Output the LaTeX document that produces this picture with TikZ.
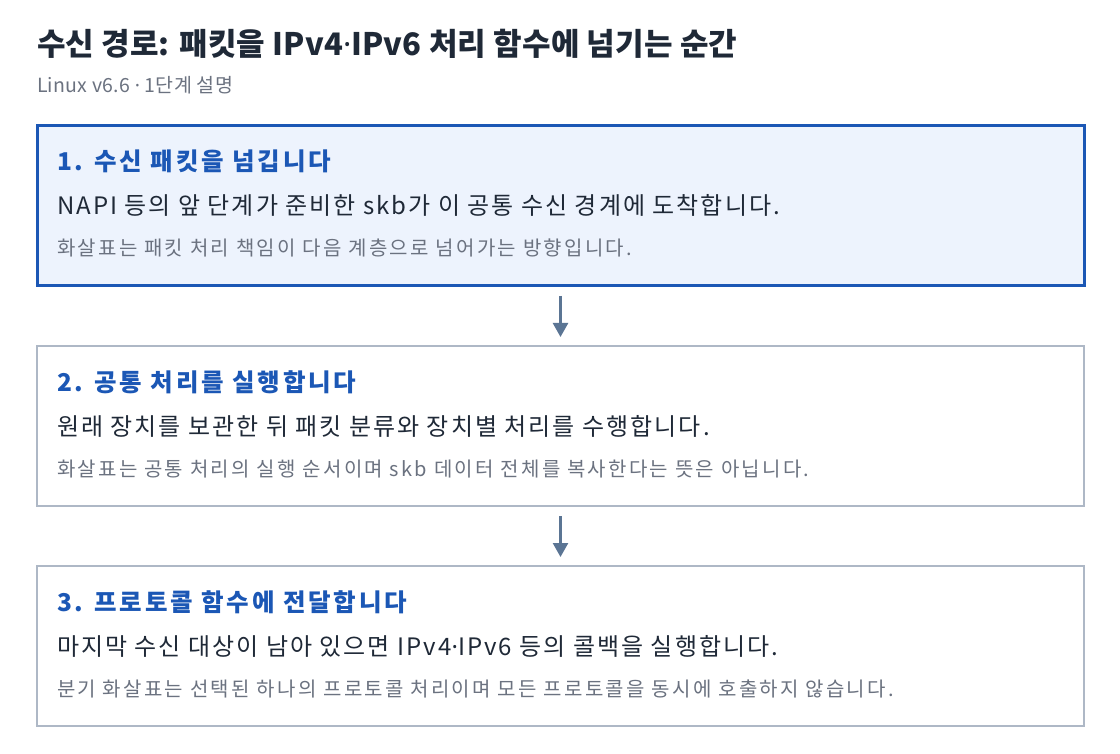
\documentclass[tikz,border=0pt]{standalone}
\usepackage{fontspec}
\setmainfont{Noto Sans CJK KR}
\newfontfamily\latinfont{Noto Sans}
\newcommand{\mdot}{{\latinfont ·}}
\usetikzlibrary{arrows.meta}
\definecolor{titlec}{HTML}{1F2937}
\definecolor{subc}{HTML}{6B7280}
\definecolor{headc}{HTML}{1B57B5}
\definecolor{bodyc}{HTML}{1F2937}
\definecolor{notec}{HTML}{6B7280}
\definecolor{activeb}{HTML}{1B57B5}
\definecolor{activef}{HTML}{EDF3FD}
\definecolor{plainb}{HTML}{AEB8C6}
\definecolor{arrc}{HTML}{5B7594}
\tikzset{
  txt/.style={anchor=base west, inner sep=0pt, outer sep=0pt},
  titletxt/.style={txt, text=titlec, font=\fontsize{31}{36}\selectfont\bfseries\addfontfeatures{LetterSpace=0.6}},
  subtxt/.style={txt, text=subc, font=\fontsize{19.5}{23}\selectfont\addfontfeatures{LetterSpace=1.5}},
  headtxt/.style={txt, text=headc, font=\fontsize{24.5}{28}\selectfont\bfseries\addfontfeatures{LetterSpace=11.5}},
  bodytxt/.style={txt, text=bodyc, font=\fontsize{24}{29}\selectfont\addfontfeatures{LetterSpace=8.5}},
  notetxt/.style={txt, text=notec, font=\fontsize{20}{24}\selectfont\addfontfeatures{LetterSpace=11.5}},
  stagebox/.style={draw=plainb, line width=1.5pt, fill=white, minimum width=1047pt, minimum height=160pt, inner sep=0pt, outer sep=0pt},
  activebox/.style={stagebox, draw=activeb, fill=activef, line width=3pt},
  flowarr/.style={draw=arrc, line width=2.5pt, -{Triangle[width=15pt,length=14pt]}}
}
\begin{document}
\begin{tikzpicture}[x=1pt,y=-1pt]
\useasboundingbox[fill=white] (0,0) rectangle (1120,754);
\node[titletxt] (title) at (37,56) {수신 경로: 패킷을 IPv4\mdot IPv6 처리 함수에 넘기는 순간};
\node[subtxt] (sub) at (37,93) {Linux v6.6 \mdot{} 1단계 설명};

\node[activebox] (b1) at (560.5,206) {};
\node[stagebox] (b2) at (560.5,426) {};
\node[stagebox] (b3) at (560.5,646) {};

\node[headtxt] (h1) at (57,171) {1. 수신 패킷을 넘깁니다};
\node[bodytxt] (t1) at (57,215) {NAPI 등의 앞 단계가 준비한 skb가 이 공통 수신 경계에 도착합니다.};
\node[notetxt] (n1) at (57,256) {화살표는 패킷 처리 책임이 다음 계층으로 넘어가는 방향입니다.};

\node[headtxt] (h2) at (57,391) {2. 공통 처리를 실행합니다};
\node[bodytxt] (t2) at (57,435) {원래 장치를 보관한 뒤 패킷 분류와 장치별 처리를 수행합니다.};
\node[notetxt] (n2) at (57,476) {화살표는 공통 처리의 실행 순서이며 skb 데이터 전체를 복사한다는 뜻은 아닙니다.};

\node[headtxt] (h3) at (57,611) {3. 프로토콜 함수에 전달합니다};
\node[bodytxt] (t3) at (57,655) {마지막 수신 대상이 남아 있으면 IPv4\mdot IPv6 등의 콜백을 실행합니다.};
\node[notetxt] (n3) at (57,696) {분기 화살표는 선택된 하나의 프로토콜 처리이며 모든 프로토콜을 동시에 호출하지 않습니다.};

\draw[flowarr] ([yshift=-10pt]b1.south) -- ([yshift=9pt]b2.north);
\draw[flowarr] ([yshift=-10pt]b2.south) -- ([yshift=9pt]b3.north);
\end{tikzpicture}
\end{document}
